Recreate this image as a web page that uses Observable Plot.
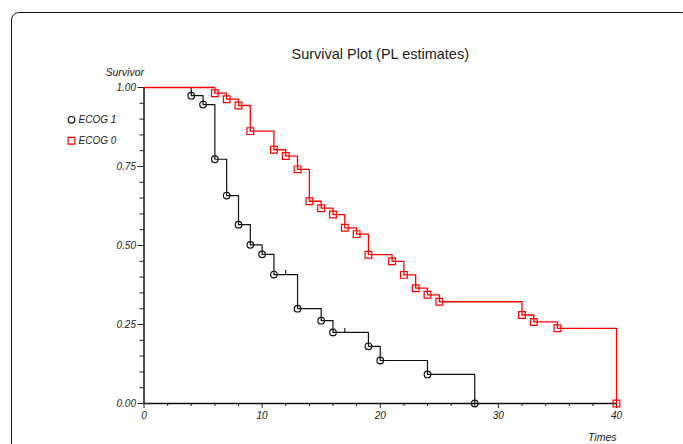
<!DOCTYPE html>
<html>
<head>
<meta charset="utf-8">
<script src="https://cdn.jsdelivr.net/npm/d3@7"></script>
<script src="https://cdn.jsdelivr.net/npm/@observablehq/plot@0.6"></script>
<style>
  html, body { margin: 0; padding: 0; background: #fff; overflow: hidden; }
  #wrap { position: relative; width: 683px; height: 444px; overflow: hidden; }
  #box { position: absolute; left: 11px; top: 12px; width: 676px; height: 460px;
         border: 1.5px solid #1a1a1a; border-radius: 8px; box-sizing: content-box; }
  #chart { position: absolute; left: 0; top: 0; }
</style>
</head>
<body>
<div id="wrap"><div id="box"></div><div id="chart"></div></div>
<script>
// ECOG 1 (black, circles)
const ecog1Times = [0, 4, 5, 6, 7, 8, 9, 10, 11, 13, 15, 16, 19, 20, 24, 28];
const ecog1Surv  = [1, 0.974, 0.946, 0.773, 0.658, 0.566, 0.502, 0.472, 0.408, 0.300, 0.262, 0.225, 0.181, 0.136, 0.092, 0];
const ecog1CensorTimes = [12, 17];
// ECOG 0 (red, squares)
const ecog0Times = [0, 6, 7, 8, 9, 11, 12, 13, 14, 15, 16, 17, 18, 19, 21, 22, 23, 24, 25, 32, 33, 35, 40];
const ecog0Surv  = [1, 0.982, 0.963, 0.943, 0.862, 0.803, 0.783, 0.741, 0.640, 0.618, 0.598, 0.556, 0.536, 0.471, 0.450, 0.407, 0.365, 0.344, 0.322, 0.280, 0.258, 0.238, 0];
// axis ticks
const yMajorTicks = [0, 0.25, 0.5, 0.75, 1];
const yMinorTicks = [0.05, 0.1, 0.15, 0.2, 0.3, 0.35, 0.4, 0.45, 0.55, 0.6, 0.65, 0.7, 0.8, 0.85, 0.9, 0.95];
const xMajorTicks = [0, 10, 20, 30, 40];
const xMinorTicks = [2, 4, 6, 8, 12, 14, 16, 18, 22, 24, 26, 28, 32, 34, 36, 38];
const seriesNames = ["ECOG 1", "ECOG 0"];
const titleText = "Survival Plot (PL estimates)";
const yLabel = "Survivor";
const xLabel = "Times";

const ecog1 = ecog1Times.map((t, i) => ({t, s: ecog1Surv[i]}));
const ecog0 = ecog0Times.map((t, i) => ({t, s: ecog0Surv[i]}));
const stepAt = (data, t) => { let s = 1; for (const d of data) if (d.t <= t) s = d.s; return s; };
const ecog1Censor = ecog1CensorTimes.map(t => ({t, s: stepAt(ecog1, t)}));

const censorSymbol = { draw(ctx) { ctx.moveTo(0, 0); ctx.lineTo(0, -4.5); } };

const font = "italic";
const plot = Plot.plot({
  width: 683, height: 444,
  marginLeft: 143.5, marginRight: 67, marginTop: 87, marginBottom: 41,
  style: { fontFamily: "'Liberation Sans', Arial, sans-serif", background: "transparent", color: "#222" },
  x: { domain: [0, 40] },
  y: { domain: [0, 1] },
  marks: [
    Plot.axisY(yMajorTicks, { tickSize: 6, tickPadding: 2, tickFormat: d3.format(".2f"), fontStyle: font, fontSize: 10, label: null, stroke: "#222" }),
    Plot.axisY(yMinorTicks, { tickSize: 4, text: null, label: null, stroke: "#222" }),
    Plot.axisX(xMajorTicks, { tickSize: 5, tickPadding: 3, tickFormat: d3.format("d"), fontStyle: font, fontSize: 10, label: null, stroke: "#222" }),
    Plot.axisX(xMinorTicks, { tickSize: 3, text: null, label: null, stroke: "#222" }),
    Plot.ruleX([0], { stroke: "#111", strokeWidth: 1.5 }),
    Plot.ruleY([0], { stroke: "#111", strokeWidth: 1.5 }),
    Plot.line(ecog1, { x: "t", y: "s", curve: "step-after", stroke: "#111", strokeWidth: 1.2 }),
    Plot.line(ecog0, { x: "t", y: "s", curve: "step-after", stroke: "#ff0000", strokeWidth: 1.3 }),
    Plot.dot(ecog1Censor, { x: "t", y: "s", symbol: censorSymbol, stroke: "#111", fill: "none", strokeWidth: 1.1 }),
    Plot.dot(ecog1.slice(1), { x: "t", y: "s", symbol: "circle", r: 3.3, stroke: "#111", fill: "none", strokeWidth: 1.2 }),
    Plot.dot(ecog0.slice(1), { x: "t", y: "s", symbol: "square", r: 3.8, stroke: "#ff0000", fill: "none", strokeWidth: 1.2 }),
    // title and axis labels
    Plot.text([titleText], { frameAnchor: "top", lineAnchor: "middle", dy: -33.5, fontSize: 14.5, fill: "#1a1a1a" }),
    Plot.text([yLabel], { frameAnchor: "top-left", lineAnchor: "middle", dy: -14.5, dx: 0, textAnchor: "end", fontSize: 10.5, fontStyle: font, fill: "#222" }),
    Plot.text([xLabel], { frameAnchor: "bottom-right", lineAnchor: "middle", dy: 33.7, textAnchor: "end", fontSize: 10.5, fontStyle: font, fill: "#222" }),
    // legend
    Plot.dot([seriesNames[0]], { frameAnchor: "top-left", dx: -72.5, dy: 32.3, symbol: "circle", r: 3.3, stroke: "#111", fill: "none", strokeWidth: 1.2 }),
    Plot.dot([seriesNames[1]], { frameAnchor: "top-left", dx: -72.5, dy: 53.3, symbol: "square", r: 3.8, stroke: "#ff0000", fill: "none", strokeWidth: 1.2 }),
    Plot.text([seriesNames[0]], { frameAnchor: "top-left", lineAnchor: "middle", dx: -65.5, dy: 32.3, textAnchor: "start", fontSize: 10, fontStyle: font, fill: "#222" }),
    Plot.text([seriesNames[1]], { frameAnchor: "top-left", lineAnchor: "middle", dx: -65.5, dy: 53.3, textAnchor: "start", fontSize: 10, fontStyle: font, fill: "#222" })
  ]
});
document.getElementById("chart").appendChild(plot);
</script>
</body>
</html>
